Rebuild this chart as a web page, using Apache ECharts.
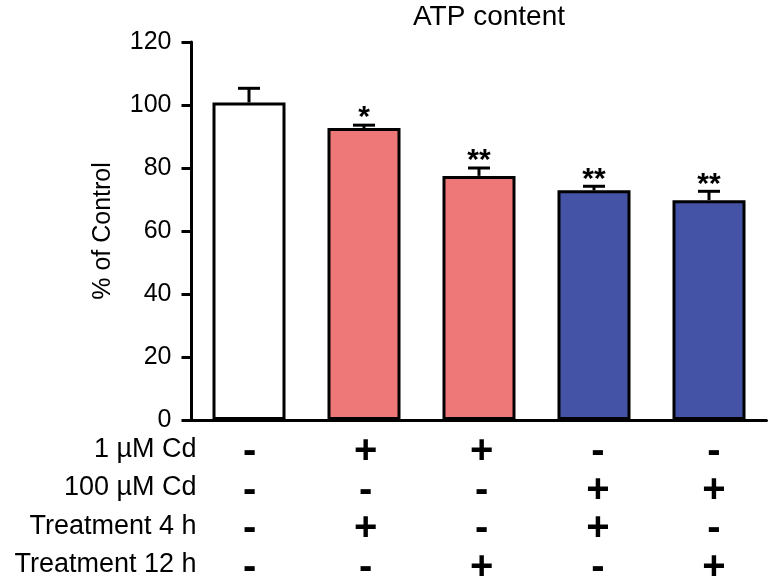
<!DOCTYPE html>
<html><head><meta charset="utf-8">
<script src="https://cdn.jsdelivr.net/npm/echarts@6/dist/echarts.min.js"></script>
<style>html,body{margin:0;padding:0;background:#fff}#c{width:772px;height:584px}</style>
</head><body><div id="c"></div>
<script>
// ---- data ----
var categories = ['Control', '1 µM Cd 4 h', '1 µM Cd 12 h', '100 µM Cd 4 h', '100 µM Cd 12 h'];
var atpMean = [100.8, 92.7, 77.5, 72.9, 69.8];
var atpSem = [4.5, 0.9, 2.5, 1.3, 2.8];
var significance = ['', '*', '**', '**', '**'];
var rowLabels = ['1 µM Cd', '100 µM Cd', 'Treatment 4 h', 'Treatment 12 h'];
var cd1 = ['-', '+', '+', '-', '-'];
var cd100 = ['-', '-', '-', '+', '+'];
var treat4 = ['-', '+', '-', '+', '-'];
var treat12 = ['-', '-', '+', '-', '+'];
var yTicks = [0, 20, 40, 60, 80, 100, 120];

// ---- styles ----
var FONT = '"Liberation Sans", Arial, sans-serif';
var barColors = ['#ffffff', '#EE7777', '#EE7777', '#4553A6', '#4553A6'];
var signRows = [cd1, cd100, treat4, treat12];

var signData = [];
signRows.forEach(function (row, r) {
  row.forEach(function (s, c) { signData.push([c, r, s]); });
});

var chart = echarts.init(document.getElementById('c'), null, {renderer: 'canvas'});

chart.setOption({
  animation: false,
  backgroundColor: '#fff',
  title: {
    text: 'ATP content', left: 484, top: -2, textAlign: 'center',
    textStyle: {fontSize: 28, fontWeight: 'normal', color: '#000', fontFamily: FONT}
  },
  grid: [
    {left: 191.5, width: 575, top: 42, height: 378},
    {left: 191.5, width: 585, top: 430, height: 161}
  ],
  xAxis: [{
    type: 'category', gridIndex: 0, data: categories,
    axisLine: {lineStyle: {color: '#000', width: 3}},
    axisTick: {show: false}, axisLabel: {show: false}
  }, {
    type: 'category', gridIndex: 1, data: categories, show: false
  }],
  yAxis: [{
    type: 'value', gridIndex: 0, min: yTicks[0], max: yTicks[yTicks.length - 1], interval: 20,
    axisLine: {show: true, lineStyle: {color: '#000', width: 3}},
    axisTick: {show: true, length: 10, lineStyle: {color: '#000', width: 3}},
    axisLabel: {fontSize: 25, color: '#000', fontFamily: FONT, margin: 20},
    splitLine: {show: false},
    name: '% of Control', nameLocation: 'middle', nameGap: 76, nameRotate: 90, nameMoveOverlap: false,
    nameTextStyle: {fontSize: 25, color: '#000', fontFamily: FONT}
  }, {
    type: 'category', gridIndex: 1, data: rowLabels, inverse: true,
    axisLine: {show: false}, axisTick: {show: false}, splitLine: {show: false},
    axisLabel: {fontSize: 27, color: '#000', fontFamily: FONT, margin: -5, interval: 0}
  }],
  series: [{
    type: 'bar', xAxisIndex: 0, yAxisIndex: 0, barWidth: 73,
    data: atpMean.map(function (v, i) {
      return {value: v, itemStyle: {color: barColors[i], borderColor: '#000', borderWidth: 3}};
    }),
    z: 2
  }, {
    type: 'custom', xAxisIndex: 0, yAxisIndex: 0, z: 5,
    data: atpMean.map(function (v, i) { return [i, v, v + atpSem[i]]; }),
    renderItem: function (params, api) {
      var i = api.value(0);
      var p0 = api.coord([i, api.value(1)]);
      var p1 = api.coord([i, api.value(2)]);
      var st = {stroke: '#000', lineWidth: 3, fill: null};
      return {
        type: 'group',
        children: [
          {type: 'line', shape: {x1: p0[0], y1: p0[1], x2: p1[0], y2: p1[1]}, style: st},
          {type: 'line', shape: {x1: p1[0] - 11, y1: p1[1], x2: p1[0] + 11, y2: p1[1]}, style: st},
          {type: 'text', style: {text: significance[params.dataIndex], x: p1[0], y: p1[1] + 8,
            align: 'center', verticalAlign: 'bottom', fontSize: 30, fontWeight: 'bold',
            fontFamily: FONT, fill: '#000'}}
        ]
      };
    }
  }, {
    type: 'custom', xAxisIndex: 1, yAxisIndex: 1, z: 5,
    data: signData,
    renderItem: function (params, api) {
      var p = api.coord([api.value(0), api.value(1)]);
      return {
        type: 'text',
        style: {text: signData[params.dataIndex][2], x: p[0], y: p[1] + 3, align: 'center',
          verticalAlign: 'middle', fontSize: 40, fontWeight: 'bold', fontFamily: FONT, fill: '#000'}
      };
    }
  }]
});
</script>
</body></html>
